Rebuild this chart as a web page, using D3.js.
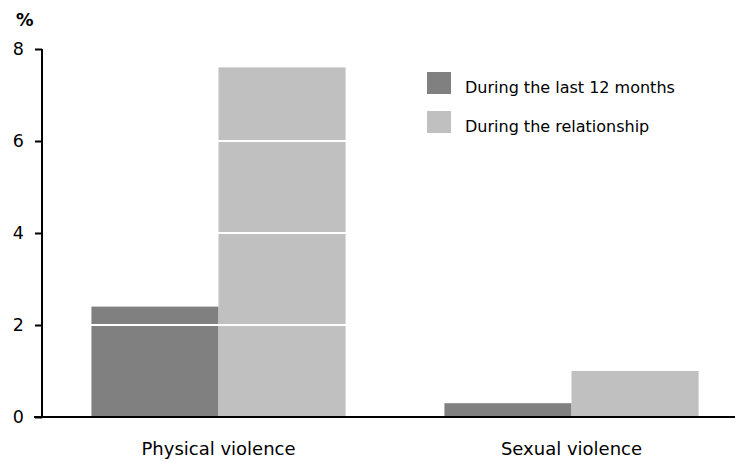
<!DOCTYPE html>
<html>
<head>
<meta charset="utf-8">
<script src="https://cdn.jsdelivr.net/npm/d3@7"></script>
<style>
  html, body { margin: 0; padding: 0; background: #fff; }
  svg { display: block; font-family: "DejaVu Sans", sans-serif; }
</style>
</head>
<body>
<svg id="chart" width="735" height="462"></svg>
<script>
const categories = ["Physical violence", "Sexual violence"];
const seriesNames = ["During the last 12 months", "During the relationship"];
const last12Months = [2.4, 0.3];
const duringRelationship = [7.6, 1.0];
const yTicks = [0, 2, 4, 6, 8];
const colors = ["#808080", "#c0c0c0"];

const seriesValues = [last12Months, duringRelationship];
const data = categories.map((c, i) => ({
  category: c,
  values: seriesNames.map((s, j) => ({ series: s, value: seriesValues[j][i] }))
}));

const svg = d3.select("#chart");
const plotLeft = 42, plotBottom = 417, plotTop = 49;

const y = d3.scaleLinear().domain([0, 8]).range([plotBottom, plotTop]);
const x0 = d3.scaleBand().domain(categories).range([plotLeft, 748])
  .paddingInner(0.28).paddingOuter(0.14);
const x1 = d3.scaleBand().domain(seriesNames).range([0, x0.bandwidth()]);
const color = d3.scaleOrdinal().domain(seriesNames).range(colors);

// bars
const groups = svg.append("g").selectAll("g").data(data).join("g")
  .attr("transform", d => `translate(${x0(d.category)},0)`);
groups.selectAll("rect").data(d => d.values).join("rect")
  .attr("x", d => x1(d.series))
  .attr("width", x1.bandwidth())
  .attr("y", d => y(d.value))
  .attr("height", d => y(0) - y(d.value))
  .attr("fill", d => color(d.series));

// white gridlines over bars
svg.append("g").selectAll("line").data(yTicks.filter(t => t > 0 && t < 8)).join("line")
  .attr("x1", plotLeft).attr("x2", 735)
  .attr("y1", d => y(d)).attr("y2", d => y(d))
  .attr("stroke", "#fff").attr("stroke-width", 2);

// y axis
const yAxis = svg.append("g").attr("transform", `translate(${plotLeft},0)`)
  .call(d3.axisLeft(y).tickValues(yTicks).tickFormat(d3.format("d")).tickSize(7).tickPadding(11));
yAxis.select(".domain").attr("d", `M0,${plotTop}V${plotBottom}`).attr("stroke", "#000").attr("stroke-width", 2);
yAxis.selectAll(".tick line").attr("stroke", "#000").attr("stroke-width", 2);
yAxis.selectAll(".tick text").attr("font-size", 17.5).attr("fill", "#000")
  .attr("font-family", "DejaVu Sans, sans-serif");

// x axis
const xAxis = svg.append("g").attr("transform", `translate(0,${plotBottom})`)
  .call(d3.axisBottom(x0).tickSize(0).tickPadding(25));
xAxis.select(".domain").attr("d", `M34,0H735`).attr("stroke", "#000").attr("stroke-width", 2);
xAxis.selectAll(".tick text").attr("font-size", 18).attr("fill", "#000")
  .attr("font-family", "DejaVu Sans, sans-serif");

// unit label
svg.append("text").attr("x", 16).attr("y", 26)
  .attr("font-size", 17.5).attr("font-weight", "bold").text("%");

// legend
const legend = svg.append("g").selectAll("g").data(seriesNames).join("g")
  .attr("transform", (d, i) => `translate(427,${72 + i * 39})`);
legend.append("rect").attr("width", 24).attr("height", 22).attr("fill", d => color(d));
legend.append("text").attr("x", 38).attr("y", 21).attr("font-size", 16)
  .attr("fill", "#000").text(d => d);
</script>
</body>
</html>
